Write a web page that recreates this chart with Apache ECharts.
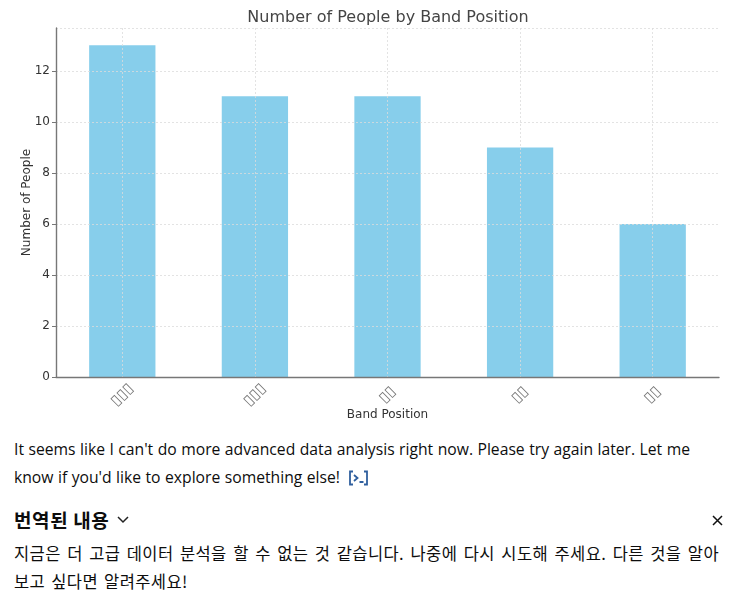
<!DOCTYPE html>
<html>
<head>
<meta charset="utf-8">
<script src="https://cdn.jsdelivr.net/npm/echarts@6/dist/echarts.min.js"></script>
<style>
  html, body { margin: 0; padding: 0; background: #fff; }
  body { width: 750px; height: 595px; position: relative; overflow: hidden; color: #0d0d0d;
         font-family: "Open Sans", "Noto Sans CJK KR", sans-serif; }
  #chart { position: absolute; left: 0; top: 0; width: 750px; height: 425px; }
  .line { position: absolute; left: 14px; width: 705px; margin: 0; white-space: nowrap; line-height: 28px; }
  .en { font-size: 15.7px; word-spacing: 0.4px; }
  .ko { font: 16.5px/28px "Noto Sans CJK KR", sans-serif; letter-spacing: 0.4px; word-spacing: 2px; }
  #ko1 { white-space: normal; text-align: justify; text-align-last: justify; word-spacing: 0; }
  #head { position: absolute; left: 14px; top: 506px; font: 700 19px/28px "Noto Sans CJK KR", sans-serif; letter-spacing: 0.6px; }
  svg { position: absolute; fill: none; }
</style>
</head>
<body>
<div id="chart"></div>
<p class="line en" style="top:435px">It seems like I can't do more advanced data analysis right now. Please try again later. Let me</p>
<p class="line en" style="top:463px">know if you'd like to explore something else!</p>
<svg style="left:348px;top:470px" width="21" height="16" viewBox="0 0 21 16" stroke="#2f5f9e" stroke-width="1.8">
  <path d="M5 1.5H2V14.5H5M16 1.5H19V14.5H16M6 5L9.5 8L6 11M11.5 12H15.5"/>
</svg>
<div id="head">번역된 내용</div>
<svg style="left:116px;top:514px" width="14" height="12" viewBox="0 0 14 12" stroke="#222" stroke-width="1.5">
  <path d="M2 3L7 8L12 3"/>
</svg>
<svg style="left:711px;top:514px" width="13" height="13" viewBox="0 0 13 13" stroke="#111" stroke-width="1.5">
  <path d="M2 2L11 11M11 2L2 11"/>
</svg>
<p class="line ko" id="ko1" style="top:539px">지금은 더 고급 데이터 분석을 할 수 없는 것 같습니다. 나중에 다시 시도해 주세요. 다른 것을 알아</p>
<p class="line ko" style="top:567px">보고 싶다면 알려주세요!</p>

<script>
const chartTitle = 'Number of People by Band Position';
const xName = 'Band Position';
const yName = 'Number of People';
// the labels show up as missing-glyph boxes in the picture
const categories = ['▯▯▯', '▯▯▯', '▯▯', '▯▯', '▯▯'];
const people = [13, 11, 11, 9, 6];
const yTicks = [0, 2, 4, 6, 8, 10, 12];

const chart = echarts.init(document.getElementById('chart'));
const font = 'DejaVu Sans';
const gridLine = { show: true, lineStyle: { color: '#dcdcdc', type: [2, 2], width: 0.8 } };

chart.setOption({
  animation: false,
  title: {
    text: chartTitle,
    left: 383, top: 5, textAlign: 'center',
    textStyle: { fontFamily: font, fontSize: 16, fontWeight: 'normal', color: '#444' }
  },
  grid: { left: 56, right: 31, top: 28, bottom: 48, outerBoundsMode: 'none' },
  xAxis: {
    type: 'category',
    data: categories,
    z: 3,
    name: xName,
    nameLocation: 'middle',
    nameGap: 38,
    nameMoveOverlap: false,
    nameTextStyle: { fontFamily: font, fontSize: 12, color: '#333', verticalAlign: 'middle' },
    axisLine: { lineStyle: { color: '#777', width: 1.4 } },
    axisTick: { alignWithLabel: true, length: 4, lineStyle: { color: '#777' } },
    axisLabel: {
      rotate: 45, margin: 18, align: 'center', verticalAlign: 'middle',
      fontFamily: font, fontSize: 15, color: '#777', interval: 0
    },
    splitLine: Object.assign({ alignWithLabel: true, interval: 0 }, gridLine)
  },
  yAxis: {
    type: 'value',
    min: 0,
    max: 13.68,
    interval: 2,
    z: 3,
    name: yName,
    nameLocation: 'middle',
    nameGap: 29,
    nameMoveOverlap: false,
    nameTextStyle: { fontFamily: font, fontSize: 12, color: '#333', verticalAlign: 'middle' },
    axisLine: { show: true, lineStyle: { color: '#777', width: 1.4 } },
    axisTick: { show: true, length: 4, lineStyle: { color: '#777' } },
    axisLabel: {
      margin: 6, fontFamily: font, fontSize: 12, color: '#333',
      showMaxLabel: false,
      formatter: v => yTicks.includes(v) ? String(v) : ''
    },
    splitLine: gridLine
  },
  series: [{
    type: 'bar',
    data: people,
    barWidth: '50%',
    itemStyle: { color: '#87ceeb' }
  }]
});
</script>
</body>
</html>
